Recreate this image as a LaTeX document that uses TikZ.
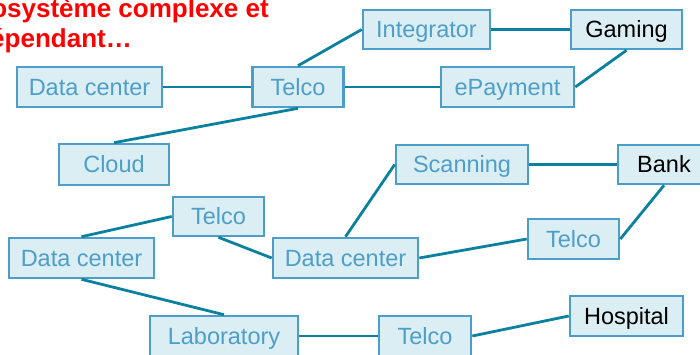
\documentclass[tikz,border=0pt]{standalone}
\usepackage{fontspec}
\setmainfont{Liberation Sans}
\definecolor{boxfill}{HTML}{DAEEF3}
\definecolor{boxline}{HTML}{4C9DC8}
\definecolor{boxtext}{HTML}{4E9ECA}
\definecolor{link}{HTML}{0B819F}
\tikzset{
  box/.style={draw=boxline, fill=boxfill, line width=2.6pt, inner sep=0pt,
    text=boxtext, font=\fontsize{23.5}{26}\selectfont, text height=16.8pt, text depth=0pt},
  dark/.style={text=black},
  conn/.style={draw=link, line width=2.8pt},
  title/.style={text=red, font=\fontsize{26}{30}\selectfont\bfseries, inner sep=0pt, anchor=base east}
}
\begin{document}
\begin{tikzpicture}[x=1pt,y=-1pt]
\useasboundingbox (0,0) rectangle (700,354);
\clip (0,0) rectangle (700,354);
\node[title] (t1) at (269,17) {Écosystème complexe et};
\node[title] (t2) at (132,47) {interdépendant…};
\node[box, minimum width=145, minimum height=40] (dc1) at (89.5,87) {Data center};
\node[box, minimum width=91, minimum height=40] (tel1) at (298,87) {Telco};
\node[box, minimum width=110, minimum height=41] (cloud) at (114,164.5) {Cloud};
\node[box, minimum width=127, minimum height=39] (integ) at (426.5,29.5) {Integrator};
\node[box, dark, minimum width=111, minimum height=39] (gaming) at (626.5,29.5) {Gaming};
\node[box, minimum width=133, minimum height=40] (epay) at (507.5,87) {ePayment};
\node[box, minimum width=132, minimum height=39] (scan) at (462,164.5) {Scanning};
\node[box, dark, minimum width=92, minimum height=39] (bank) at (664,164.5) {Bank};
\node[box, minimum width=91, minimum height=40] (tel2) at (573.5,239) {Telco};
\node[box, minimum width=145, minimum height=40] (dc2) at (345.5,258) {Data center};
\node[box, dark, minimum width=113, minimum height=40] (hosp) at (626.5,316) {Hospital};
\node[box, minimum width=92, minimum height=40] (tel4) at (425,336) {Telco};
\node[box, minimum width=148, minimum height=40] (lab) at (224,336) {Laboratory};
\node[box, minimum width=91, minimum height=39] (tel3) at (218.5,216.5) {Telco};
\node[box, minimum width=145, minimum height=40] (dc3) at (81.5,258) {Data center};
\draw[conn] (dc1.east) -- (tel1.west);
\draw[conn] (tel1.north) -- (integ.west);
\draw[conn] (tel1.east) -- (epay.west);
\draw[conn] (tel1.south) -- (cloud.north);
\draw[conn] (integ.east) -- (gaming.west);
\draw[conn] (gaming.south) -- (epay.east);
\draw[conn] (scan.west) -- (dc2.north);
\draw[conn] (scan.east) -- (bank.west);
\draw[conn] (bank.south) -- (tel2.east);
\draw[conn] (dc2.east) -- (tel2.west);
\draw[conn] (tel3.south) -- (dc2.west);
\draw[conn] (dc3.north) -- (tel3.west);
\draw[conn] (dc3.south) -- (lab.north);
\draw[conn] (lab.east) -- (tel4.west);
\draw[conn] (tel4.east) -- (hosp.west);
\end{tikzpicture}
\end{document}
